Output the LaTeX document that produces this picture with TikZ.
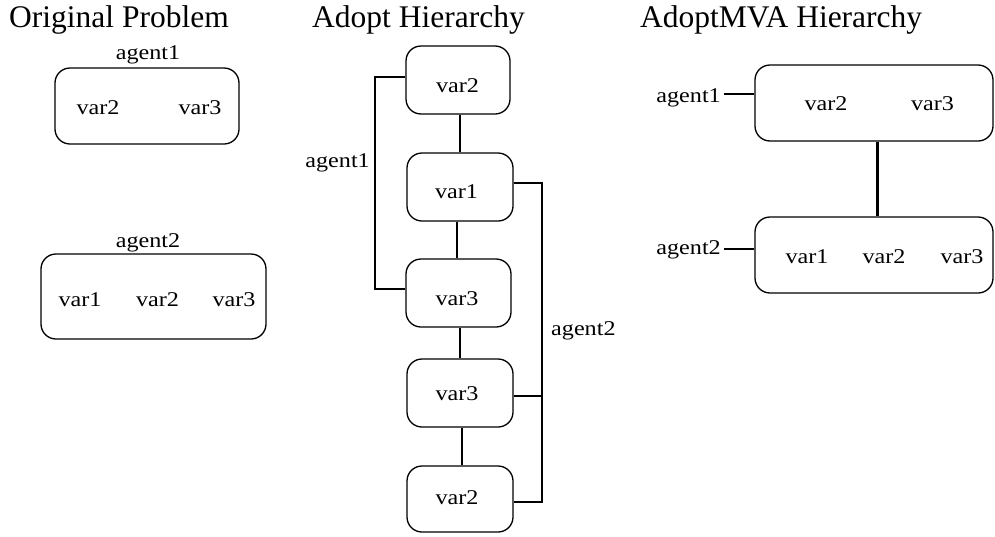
\documentclass[tikz,border=0pt]{standalone}
\usepackage{fontspec}
\setmainfont{Liberation Serif}
\newfontfamily\labfont[FakeStretch=1.15]{Liberation Serif}
\usetikzlibrary{calc}
\begin{document}
\begin{tikzpicture}[x=1pt,y=-1pt,
  box/.style={draw,rounded corners=15pt,line width=1.3pt,inner sep=0pt},
  lab/.style={inner sep=0pt,font=\labfont\fontsize{21}{23}\selectfont},
  ttl/.style={inner sep=0pt,anchor=base west,font=\fontsize{31.5}{33}\selectfont},
  conn/.style={line width=1.3pt},
  thickconn/.style={line width=3pt}]
\useasboundingbox (0,0) rectangle (995,536);

% titles
\node[ttl] (t1) at (9,27) {Original Problem};
\node[ttl] (t2) at (312,27) {Adopt Hierarchy};
\node[ttl] (t3) at (640,27) {AdoptMVA Hierarchy};

% ---- Original Problem
\node[box,minimum width=184pt,minimum height=76pt] (o1) at (147,106) {};
\node[lab,anchor=base] (o1l) at (148,59) {agent1};
\node[lab,anchor=base] (o1a) at (98,114) {var2};
\node[lab,anchor=base] (o1b) at (200,114) {var3};

\node[box,minimum width=225pt,minimum height=85pt] (o2) at (153.5,296.5) {};
\node[lab,anchor=base] (o2l) at (148,247) {agent2};
\node[lab,anchor=base] (o2a) at (80,306) {var1};
\node[lab,anchor=base] (o2b) at (157.5,306) {var2};
\node[lab,anchor=base] (o2c) at (234,306) {var3};

% ---- Adopt Hierarchy
\node[box,minimum width=104pt,minimum height=68pt] (A) at (458,80) {};
\node[box,minimum width=106pt,minimum height=68pt] (B) at (460,187) {};
\node[box,minimum width=105pt,minimum height=68pt] (C) at (458.5,293) {};
\node[box,minimum width=106pt,minimum height=68pt] (D) at (460,393) {};
\node[box,minimum width=106pt,minimum height=66pt] (E) at (460,499) {};
\node[lab,anchor=base] (At) at (457.5,92) {var2};
\node[lab,anchor=base] (Bt) at (456.5,198) {var1};
\node[lab,anchor=base] (Ct) at (457,305) {var3};
\node[lab,anchor=base] (Dt) at (457,400) {var3};
\node[lab,anchor=base] (Et) at (457,504) {var2};

\draw[conn] ([xshift=2pt]A.south) -- ([xshift=2pt]A.south |- B.north);
\draw[conn] ([xshift=-1.5pt]C.north) -- ([xshift=-1.5pt]C.north |- B.south);
\draw[conn] ([xshift=1.5pt]C.south) -- ([xshift=1.5pt]C.south |- D.north);
\draw[conn] ([xshift=2pt]D.south) -- ([xshift=2pt]D.south |- E.north);

% agent1 bracket
\coordinate (b1) at (375,0);
\coordinate (Aw) at ([yshift=3pt]A.west);
\coordinate (Cw) at ([yshift=4pt]C.west);
\draw[conn] (Aw) -- (Aw -| b1) -- (Cw -| b1) -- (Cw);
\node[lab,anchor=base east] (ag1) at (370,167) {agent1};

% agent2 bracket
\coordinate (b2) at (542,0);
\coordinate (Be) at ([yshift=4pt]B.east);
\coordinate (De) at ([yshift=-3pt]D.east);
\coordinate (Ee) at ([yshift=-3pt]E.east);
\draw[conn] (Be) -- (Be -| b2) -- (Ee -| b2) -- (Ee);
\draw[conn] (De) -- (De -| b2);
\node[lab,anchor=base west] (ag2) at (551,335) {agent2};

% ---- AdoptMVA Hierarchy
\node[box,minimum width=238pt,minimum height=76pt] (M1) at (874,103) {};
\node[box,minimum width=238pt,minimum height=76pt] (M2) at (874,255) {};
\node[lab,anchor=base] (M1a) at (826,110) {var2};
\node[lab,anchor=base] (M1b) at (932.5,110) {var3};
\node[lab,anchor=base] (M2a) at (807,263) {var1};
\node[lab,anchor=base] (M2b) at (884,263) {var2};
\node[lab,anchor=base] (M2c) at (962,263) {var3};
\draw[thickconn] ([xshift=3pt]M1.south) -- ([xshift=3pt]M1.south |- M2.north);

\node[lab,anchor=base east] (m1l) at (721,102) {agent1};
\node[lab,anchor=base east] (m2l) at (721,254) {agent2};
\coordinate (M1w) at ([yshift=9pt]M1.west);
\coordinate (M2w) at ([yshift=6pt]M2.west);
\draw[conn] ([xshift=3pt]M1w -| m1l.east) -- (M1w);
\draw[conn] ([xshift=3pt]M2w -| m2l.east) -- (M2w);
\end{tikzpicture}
\end{document}
